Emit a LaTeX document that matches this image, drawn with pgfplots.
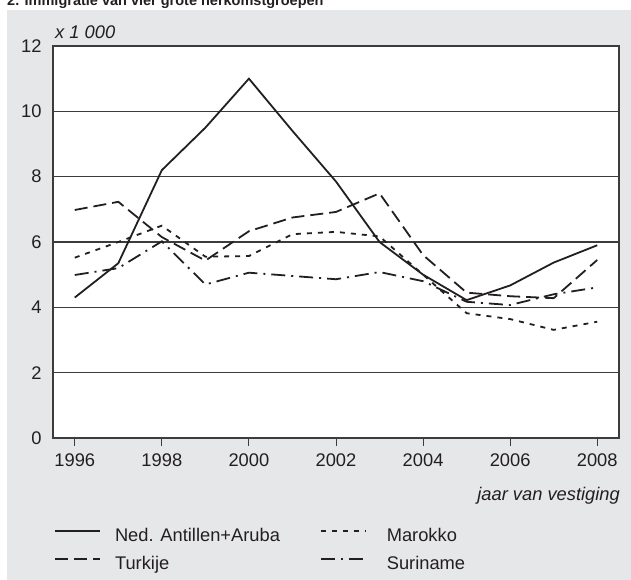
\documentclass[border=0pt]{standalone}
\usepackage{fontspec}
\setmainfont{Liberation Sans}
\usepackage{pgfplots}
\pgfplotsset{compat=1.18}
\definecolor{achter}{RGB}{230,231,233}
\definecolor{raster}{RGB}{60,60,60}
\definecolor{tekst}{RGB}{35,31,32}
\newcommand{\gewoon}{\fontsize{18.3}{22}\selectfont}

\begin{document}
\begin{tikzpicture}[x=1pt,y=1pt]
\useasboundingbox (0,0) rectangle (631,580);
\fill[achter] (7,0) rectangle (631,570);
\node[anchor=base west, inner sep=0pt, text=tekst,
  font=\fontsize{14.5}{16}\selectfont\bfseries] at (7,574)
  {2. Immigratie van vier grote herkomstgroepen};
\begin{axis}[
  at={(53pt,142pt)}, anchor=south west,
  scale only axis, width=566pt, height=392pt,
  xmin=1995.5, xmax=2008.5, ymin=0, ymax=12,
  xtick={1996,1998,...,2008}, ytick={0,2,...,12},
  ymajorgrids, grid style={raster, line width=1.2pt},
  axis line style={raster, line width=1.2pt},
  axis background/.style={fill=white},
  xtick pos=bottom, ytick pos=left,
  tick align=outside, major tick length=8pt,
  xtick style={raster, line width=1pt},
  ytick style={draw=none},
  /pgf/number format/1000 sep={},
  /pgf/number format/assume math mode=true,
  ticklabel style={font=\gewoon, text=tekst},
  xticklabel style={yshift=-4pt},
  legend columns=2,
  legend cell align=left,
  legend image code/.code={\draw[#1] (0pt,6pt) -- (45pt,6pt);},
  legend style={at={(0.0018,-0.2309)}, anchor=north west,
    draw=none, fill=none, inner sep=0pt, row sep=10.7pt,
    font=\gewoon,
    nodes={inner sep=0pt, text height=13pt, text depth=4pt, text=tekst},
    /tikz/column 1/.style={column sep=14pt},
    /tikz/column 2/.style={column sep=40pt},
    /tikz/column 3/.style={column sep=20pt}},
  every axis plot/.append style={line width=1.8pt, tekst, no markers},
]
\addplot[solid] coordinates {(1996,4.3) (1997,5.35) (1998,8.2) (1999,9.5) (2000,11.0) (2001,9.4) (2002,7.85) (2003,6.0) (2004,5.0) (2005,4.22) (2006,4.67) (2007,5.37) (2008,5.9)};
\addlegendentry{Ned. Antillen+Aruba}
\addplot[dash pattern=on 5pt off 6pt] coordinates {(1996,5.52) (1997,6.0) (1998,6.5) (1999,5.55) (2000,5.57) (2001,6.24) (2002,6.31) (2003,6.17) (2004,5.0) (2005,3.82) (2006,3.64) (2007,3.31) (2008,3.56)};
\addlegendentry{Marokko}
\addplot[dash pattern=on 13pt off 6pt] coordinates {(1996,6.98) (1997,7.23) (1998,6.15) (1999,5.43) (2000,6.33) (2001,6.75) (2002,6.92) (2003,7.49) (2004,5.6) (2005,4.45) (2006,4.34) (2007,4.28) (2008,5.45)};
\addlegendentry{Turkije}
\addplot[dash pattern=on 14pt off 6pt on 2pt off 6pt] coordinates {(1996,4.99) (1997,5.2) (1998,6.02) (1999,4.7) (2000,5.06) (2001,4.96) (2002,4.86) (2003,5.08) (2004,4.8) (2005,4.17) (2006,4.07) (2007,4.4) (2008,4.61)};
\addlegendentry{Suriname}
\end{axis}
\node[anchor=base west, inner sep=0pt, text=tekst, font=\gewoon\itshape] at (55,541) {x 1 000};
\node[anchor=base east, inner sep=0pt, text=tekst, font=\gewoon\itshape] at (620,79) {jaar van vestiging};
\end{tikzpicture}
\end{document}
